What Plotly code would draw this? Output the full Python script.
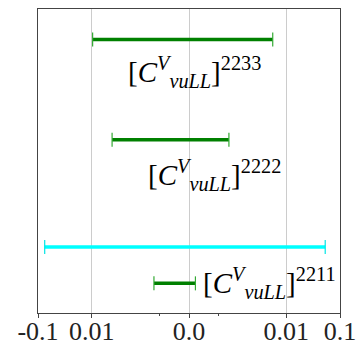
import numpy as np
import plotly.graph_objects as go

# ---- data (values in coefficient units) ----
labels = ["2233", "2222", "2211"]
green_lo = [-0.0099, -0.0079, -0.0036]
green_hi = [0.0086, 0.0041, 0.00066]
green_y = [3.6, 2.28, 0.39]
label_y = [3.17, 1.82, 0.39]
label_x = [0.0006, 0.0026, 0.0]
cyan_lo = [-0.075]
cyan_hi = [0.053]
cyan_y = [0.87]
tick_vals = [-0.1, -0.01, 0.0, 0.01, 0.1]
tick_text = ["-0.1", "0.01", "0.0", "0.01", "0.1"]
minor_vals = [-0.003, 0.003]

LINTHRESH = 0.01
DECADE = 0.551  # width of one decade relative to the linear half-region


def symlog(v):
    v = np.asarray(v, dtype=float)
    a = np.abs(v)
    out = np.where(a <= LINTHRESH, a / LINTHRESH,
                   1 + DECADE * np.log10(np.maximum(a, 1e-300) / LINTHRESH))
    return np.sign(v) * out


fig = go.Figure()


def add_bar(lo, hi, y, line_color, cap_color):
    xs = symlog([lo, hi])
    fig.add_trace(go.Scatter(x=xs, y=[y, y], mode="lines",
                             line=dict(color=line_color, width=3.5),
                             showlegend=False, hoverinfo="skip"))
    fig.add_trace(go.Scatter(x=xs, y=[y, y], mode="markers",
                             marker=dict(symbol="line-ns", size=10,
                                         line=dict(color=cap_color, width=1.2)),
                             showlegend=False, hoverinfo="skip"))


for lo, hi, y in zip(cyan_lo, cyan_hi, cyan_y):
    add_bar(lo, hi, y, "#00ffff", "#00e5e5")
for lo, hi, y in zip(green_lo, green_hi, green_y):
    add_bar(lo, hi, y, "#008000", "#33aa33")

label_font = dict(family="Liberation Serif", size=29, color="black")
for i, (lab, ly) in enumerate(zip(labels, label_y)):
    txt = "[<i>C</i><sup><i>V</i></sup><sub><i>νuLL</i></sub>]<sup>" + lab + "</sup>"
    if i < 2:
        fig.add_annotation(x=float(symlog(label_x[i])), y=ly, text=txt,
                           showarrow=False, font=label_font,
                           xanchor="center", yanchor="middle")
    else:
        fig.add_annotation(x=float(symlog(green_hi[i])), y=ly, text=txt,
                           showarrow=False, font=label_font,
                           xanchor="left", yanchor="middle", xshift=6)

fig.update_layout(
    width=363, height=349,
    margin=dict(l=38, r=23, t=9, b=36),
    plot_bgcolor="white", paper_bgcolor="white",
    font=dict(family="Liberation Serif", size=26, color="black"),
)
fig.update_xaxes(
    automargin=False,
    range=[float(symlog(-0.1)), float(symlog(0.1))],
    tickvals=[float(v) for v in symlog(tick_vals)], ticktext=tick_text,
    tickfont=dict(family="Liberation Serif", size=26, color="#222"),
    ticklabelstandoff=-9,
    ticks="outside", ticklen=4, tickcolor="#444",
    showgrid=True, gridcolor="#cccccc", gridwidth=1,
    zeroline=False, showline=True, linecolor="#444", linewidth=1.2, mirror=True,
    minor=dict(tickvals=[float(v) for v in symlog(minor_vals)], ticks="outside",
               ticklen=2, tickcolor="#444", showgrid=False),
)
fig.update_yaxes(
    automargin=False,
    range=[0, 4], showticklabels=False, ticks="", showgrid=False,
    zeroline=False, showline=True, linecolor="#444", linewidth=1.2, mirror=True,
)

fig.write_html("out.html", config={"displayModeBar": False},
               post_script="document.body.style.margin='0';document.body.style.padding='0';")
